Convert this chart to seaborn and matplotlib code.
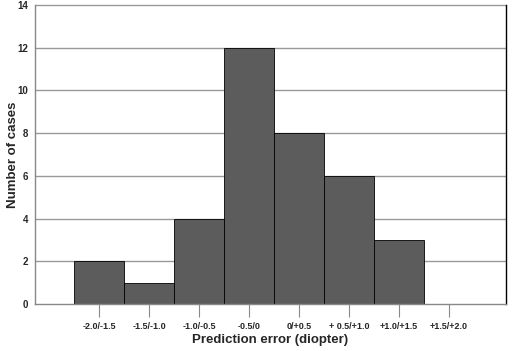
import matplotlib
matplotlib.use("Agg")
import matplotlib.pyplot as plt
import seaborn as sns
import pandas as pd

categories = ["-2.0/-1.5", "-1.5/-1.0", "-1.0/-0.5", "-0.5/0", "0/+0.5",
              "+ 0.5/+1.0", "+1.0/+1.5", "+1.5/+2.0"]
counts = [2, 1, 4, 12, 8, 6, 3, 0]
yticks = [0, 2, 4, 6, 8, 10, 12, 14]

sns.set_style("white")
plt.rcParams['font.family'] = ['Liberation Sans', 'DejaVu Sans']

df = pd.DataFrame({"cat": categories, "n": counts})

fig = plt.figure(figsize=(5.12, 3.51), dpi=100)
ax = fig.add_axes([35/512, 47/351, (506-35)/512, (304-5)/351])

for y in yticks[1:]:
    ax.axhline(y, color="#999999", lw=1.0, zorder=0, clip_on=False)

sns.barplot(data=df, x="cat", y="n", ax=ax, color="#5c5c5c", saturation=1,
            width=1.0, edgecolor="black", linewidth=0.6, zorder=2)

ax.set_xlim(-1.28, 8.14)
ax.set_ylim(0, 14)
ax.set_yticks(yticks)
ax.set_yticklabels([str(v) for v in yticks], fontsize=7, fontweight="bold")
ax.set_xticks(range(len(categories)))
ax.set_xticklabels(categories, fontsize=6.5, fontweight="bold")
ax.tick_params(axis="x", length=9, width=0.8, color="#888888", pad=4, direction="out", bottom=True)
ax.tick_params(axis="y", length=0, pad=5)

ax.set_xlabel("Prediction error (diopter)", fontsize=9.5, fontweight="bold", labelpad=2)
ax.set_ylabel("Number of cases", fontsize=9.5, fontweight="bold")
ax.yaxis.set_label_coords(-0.034, 0.5)

for s in ["left", "bottom"]:
    ax.spines[s].set_color("#888888")
    ax.spines[s].set_linewidth(1.0)
ax.spines["top"].set_visible(False)
ax.spines["right"].set_color("black")
ax.spines["right"].set_linewidth(1.0)

fig.savefig("out.png", dpi=100)
